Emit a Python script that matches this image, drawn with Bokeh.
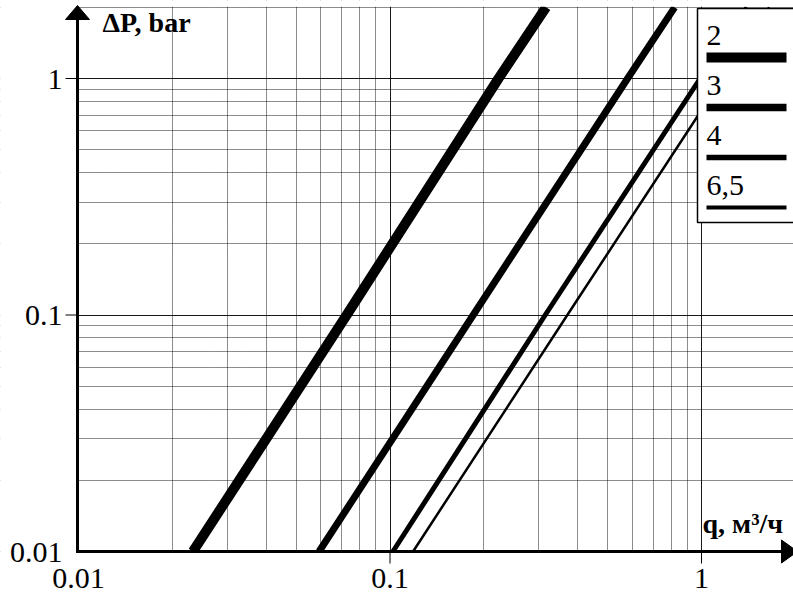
import math
from bokeh.plotting import figure
from bokeh.models import FixedTicker, Range1d
from bokeh.core.properties import value
from bokeh.embed import file_html
from bokeh.resources import INLINE

# ---------------- data ----------------
dp_points = [0.01, 0.1, 1.0, 2.0]               # ΔP, bar
q_curve_2 = [0.0233, 0.0726, 0.223, 0.317]      # q, m3/h
q_curve_3 = [0.0592, 0.185, 0.579, 0.82]
q_curve_4 = [0.1022, 0.315, 0.99, 1.40]
q_curve_65 = [0.1186, 0.371, 1.166, 1.65]
series_labels = ["2", "3", "4", "6,5"]

x_tick_values = [0.01, 0.1, 1]
x_tick_labels = ["0.01", "0.1", "1"]
y_tick_values = [0.01, 0.1, 1]
y_tick_labels = ["0.01", "0.1", "1"]
x_minor = [0.02, 0.03, 0.04, 0.05, 0.06, 0.07, 0.08, 0.09,
           0.2, 0.3, 0.4, 0.5, 0.6, 0.7, 0.8, 0.9]
y_minor = [0.02, 0.03, 0.04, 0.05, 0.06, 0.07, 0.08, 0.09,
           0.2, 0.3, 0.4, 0.5, 0.6, 0.7, 0.8, 0.9, 2]

x_label = "q, м³/ч"
y_label = "ΔP, bar"

# ---------------- layout (pixel geometry of the plot area) ----------------
W, H = 793, 593
AX_LEFT, AX_BOTTOM = 78, 551      # pixel of q = 0.01 / ΔP = 0.01
XDEC, YDEC = 311.5, 236.5         # pixels per decade

def xd(px):
    return 10 ** (-2 + (px - AX_LEFT) / XDEC)

def yd(py):
    return 10 ** (-2 + (AX_BOTTOM - py) / YDEC)

def ypix(v):
    return AX_BOTTOM - (math.log10(v) + 2) * YDEC

def base(py, size):
    # baseline correction for the svg text rendering
    return yd(py - 0.34 * size)

FONT = value("Liberation Serif")

p = figure(width=W, height=H, x_axis_type="log", y_axis_type="log",
           x_range=Range1d(xd(0), xd(W)), y_range=Range1d(yd(H), yd(0)),
           x_axis_location=None, y_axis_location=None,
           output_backend="svg", toolbar_location=None,
           min_border=0, outline_line_color=None,
           background_fill_color="white", border_fill_color="white")

# grids
p.xgrid.ticker = FixedTicker(ticks=x_tick_values, minor_ticks=x_minor)
p.ygrid.ticker = FixedTicker(ticks=y_tick_values, minor_ticks=y_minor)
for g in (p.xgrid, p.ygrid):
    g.grid_line_color = "black"
    g.grid_line_width = 1
    g.grid_line_alpha = 0.9
    g.minor_grid_line_color = "black"
    g.minor_grid_line_width = 1
    g.minor_grid_line_dash = "1 1"
    g.minor_grid_line_alpha = 0.9

# curves
curves = [q_curve_2, q_curve_3, q_curve_4, q_curve_65]
curve_widths = [10, 7, 5, 2.5]
for q, w in zip(curves, curve_widths):
    p.line(x=q, y=dp_points, line_color="black", line_width=w, line_cap="butt")

# white margins outside the plotting area
p.quad(left=[xd(-20), xd(-20), xd(-20)], right=[xd(76), xd(W + 20), xd(W + 20)],
       top=[yd(-20), yd(552), yd(-20)], bottom=[yd(H + 20), yd(H + 20), yd(6.3)],
       fill_color="white", line_color=None)

# axis lines
p.segment(x0=[xd(AX_LEFT - 1)], x1=[xd(AX_LEFT - 1)], y0=[yd(AX_BOTTOM + 1.5)], y1=[yd(14)],
          line_color="black", line_width=3)
p.segment(x0=[xd(AX_LEFT - 2.5)], x1=[xd(786)], y0=[yd(AX_BOTTOM)], y1=[yd(AX_BOTTOM)],
          line_color="black", line_width=3)

# major ticks (outside)
p.segment(x0=x_tick_values[1:], x1=x_tick_values[1:],
          y0=[yd(AX_BOTTOM)] * 2, y1=[yd(AX_BOTTOM + 12)] * 2,
          line_color="black", line_width=1)
p.segment(x0=[xd(AX_LEFT - 13)] * 2, x1=[xd(AX_LEFT)] * 2,
          y0=y_tick_values[1:], y1=y_tick_values[1:],
          line_color="black", line_width=1)

# arrowheads
p.patch(x=[xd(65), xd(77), xd(89)], y=[yd(19), yd(5), yd(19)],
        fill_color="black", line_color="black", line_width=1)
p.patch(x=[xd(781), xd(797), xd(781)], y=[yd(539.5), yd(551), yd(562.5)],
        fill_color="black", line_color="black", line_width=1)

# tick labels
p.text(x=x_tick_values, y=[base(588, 30)] * 3, text=x_tick_labels, text_font=FONT,
       text_font_size=value("30px"), text_color="black",
       text_align="center", text_baseline="alphabetic")
p.text(x=[xd(62)] * 3, y=[base(ypix(v) + 11, 30) for v in y_tick_values],
       text=y_tick_labels, text_font=FONT, text_font_size=value("30px"),
       text_color="black", text_align="right", text_baseline="alphabetic")

# legend
p.quad(left=[xd(697)], right=[xd(W + 20)], top=[yd(8)], bottom=[yd(222)],
       fill_color="white", line_color="black", line_width=1.5)
legend_widths = [10, 7.5, 5.5, 4]
for i, (lab, w) in enumerate(zip(series_labels, legend_widths)):
    b = 45 + 50 * i
    p.text(x=[xd(706)], y=[base(b, 30)], text=[lab], text_font=FONT,
           text_font_size=value("30px"), text_color="black",
           text_baseline="alphabetic", text_align="left")
    p.segment(x0=[xd(706)], x1=[xd(786)], y0=[yd(b + 12)], y1=[yd(b + 12)],
              line_color="black", line_width=w, line_cap="butt")

# axis titles
p.text(x=[xd(102)], y=[base(32, 28)], text=[y_label], text_font=FONT,
       text_font_style="bold", text_font_size=value("28px"), text_color="black",
       text_align="left", text_baseline="alphabetic")
p.text(x=[xd(702)], y=[base(533, 28)], text=[x_label], text_font=FONT,
       text_font_style="bold", text_font_size=value("28px"), text_color="black",
       text_align="left", text_baseline="alphabetic")

open("out.html", "w").write(file_html(p, INLINE))
